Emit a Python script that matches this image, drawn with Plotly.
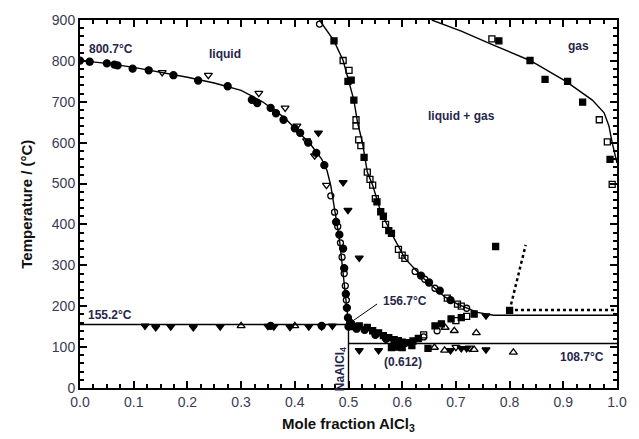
import plotly.graph_objects as go

# ---------------- data ----------------
# liquidus, NaCl-rich side
liq_left_x = [0.0, 0.05, 0.1, 0.15, 0.2, 0.25, 0.3, 0.34, 0.38, 0.41, 0.43, 0.45, 0.46, 0.467, 0.475, 0.483, 0.49, 0.495, 0.5]
liq_left_T = [800.7, 794, 784, 772, 760, 746, 728, 700, 662, 622, 595, 560, 532, 495, 430, 365, 280, 215, 156.7]

# boiling (liquid / liquid+gas) curve
boil_x = [0.446, 0.473, 0.49, 0.501, 0.51, 0.517, 0.526, 0.535, 0.545, 0.56, 0.58, 0.605, 0.64, 0.68, 0.703, 0.74, 0.77, 1.0]
boil_T = [900, 849, 801, 750, 704, 648, 600, 528, 496, 431, 378, 317, 268, 222, 205, 185, 178, 178]

# dew (gas / liquid+gas) curve
gas_x = [0.655, 0.71, 0.771, 0.838, 0.905, 0.954, 0.976, 0.985, 0.991, 0.996, 1.0]
gas_T = [900, 873, 838, 801, 750, 704, 673, 641, 600, 575, 550]

# dotted lines
dot_h_x = [0.81, 1.0]
dot_h_T = [191, 191]
dot_s_x = [0.80, 0.83]
dot_s_T = [190, 350]

# invariant lines
eut1_x = [0.0, 0.5]
eut1_T = [155.2, 155.2]
eut2_x = [0.5, 1.0]
eut2_T = [108.7, 108.7]
comp_x = [0.5, 0.5]
comp_T = [0, 156.7]

# filled circles
fc_x = [0.0, 0.018, 0.05, 0.064, 0.07, 0.098, 0.128, 0.174, 0.22, 0.275, 0.32, 0.33, 0.355, 0.365, 0.379,
        0.40, 0.41, 0.425, 0.44, 0.455, 0.477, 0.483, 0.49, 0.492, 0.495, 0.497, 0.499,
        0.5, 0.503, 0.515, 0.53, 0.55, 0.57, 0.59, 0.605, 0.635, 0.65, 0.67, 0.69, 0.355, 0.45]
fc_T = [800.7, 798, 794, 791, 789, 781, 777, 765, 752, 738, 705, 697, 685, 672, 656,
        635, 624, 600, 575, 545, 406, 375, 341, 293, 230, 196, 172,
        150, 160, 145, 142, 130, 120, 113, 110, 275, 258, 238, 215, 152, 152]

# open circles
oc_x = [0.467, 0.474, 0.48, 0.485, 0.488, 0.492, 0.494, 0.496, 0.624, 0.642, 0.661, 0.72, 0.64, 0.665, 0.446]
oc_T = [470, 430, 395, 355, 320, 280, 250, 215, 285, 266, 244, 195, 125, 140, 890]

# open down-triangles
otd_x = [0.153, 0.239, 0.333, 0.382, 0.404, 0.422, 0.437, 0.459, 0.70, 0.725]
otd_T = [772, 765, 721, 685, 641, 605, 568, 496, 100, 98]

# filled down-triangles
ftd_x = [0.121, 0.141, 0.169, 0.211, 0.261, 0.350, 0.361, 0.391, 0.426, 0.45, 0.47,
         0.444, 0.49, 0.499, 0.52, 0.52, 0.556, 0.69, 0.71, 0.72, 0.756, 0.756]
ftd_T = [152, 148, 150, 148, 150, 151, 150, 149, 150, 150, 152,
         624, 503, 435, 318, 92, 92, 92, 97, 97, 94, 177]

# open up-triangles
otu_x = [0.30, 0.40, 0.697, 0.68, 0.66, 0.679, 0.734, 0.738, 0.807]
otu_T = [152, 152, 140, 148, 99, 92, 94, 135, 87]

# filled squares
fs_x = [0.473, 0.499, 0.505, 0.51, 0.529, 0.553, 0.56, 0.565, 0.575, 0.58, 0.734, 0.80,
        0.78, 0.838, 0.866, 0.908, 0.936, 0.987, 0.774,
        0.505, 0.51, 0.52, 0.535, 0.545, 0.556, 0.565, 0.575, 0.585, 0.593, 0.6, 0.611, 0.62, 0.63,
        0.661, 0.673, 0.691, 0.71, 0.58, 0.59, 0.6, 0.618, 0.648]
fs_T = [849, 750, 753, 704, 564, 455, 431, 420, 385, 378, 181, 190,
        849, 801, 755, 750, 699, 559, 346,
        155, 150, 152, 148, 140, 135, 128, 123, 118, 116, 112, 111, 115, 121,
        152, 157, 169, 172, 99, 100, 99, 104, 97]

# open squares
os_x = [0.49, 0.501, 0.514, 0.514, 0.519, 0.523, 0.535, 0.54, 0.545, 0.55, 0.569, 0.593, 0.6, 0.605,
        0.684, 0.703, 0.71, 0.767, 0.967, 0.982, 0.991, 0.64, 0.70, 0.72]
os_T = [801, 777, 656, 641, 607, 593, 528, 510, 496, 463, 400, 339, 325, 317,
        220, 205, 200, 854, 656, 602, 498, 130, 165, 175]

# text labels
label_texts = ["800.7°C", "liquid", "gas", "liquid + gas", "155.2°C", "156.7°C", "(0.612)", "108.7°C"]
label_x = [0.057, 0.27, 0.928, 0.71, 0.055, 0.606, 0.602, 0.934]
label_T = [830, 818, 837, 665, 179, 213, 63, 75]

# ---------------- figure ----------------
FONT = "Liberation Sans, Arial, Helvetica, sans-serif"
fig = go.Figure()

def line(x, y, dash="solid", width=1.4):
    fig.add_trace(go.Scatter(x=x, y=y, mode="lines", line=dict(color="black", width=width, dash=dash),
                             hoverinfo="skip"))

line(liq_left_x, liq_left_T)
line(boil_x, boil_T)
line(gas_x, gas_T)
line(eut1_x, eut1_T)
line(eut2_x, eut2_T)
line(comp_x, comp_T)
line(dot_h_x, dot_h_T, dash="dot", width=2.5)
line(dot_s_x, dot_s_T, dash="dot", width=2.5)

def pts(x, y, sym, size=7):
    fig.add_trace(go.Scatter(x=x, y=y, mode="markers",
                             marker=dict(symbol=sym, size=size, color="black",
                                         line=dict(color="black", width=1.3))))

pts(fc_x, fc_T, "circle", 7)
pts(oc_x, oc_T, "circle-open", 6)
pts(otd_x, otd_T, "triangle-down-open", 7)
pts(ftd_x, ftd_T, "triangle-down", 7)
pts(otu_x, otu_T, "triangle-up-open", 7)
pts(fs_x, fs_T, "square", 6)
pts(os_x, os_T, "square-open", 6)

for t, xx, yy in zip(label_texts, label_x, label_T):
    fig.add_annotation(x=xx, y=yy, text="<b>" + t + "</b>", showarrow=False, xref="x", yref="y",
                       xanchor="center", yanchor="middle",
                       font=dict(family=FONT, size=12, color="#26264a"))

# leader line for 156.7
fig.add_annotation(x=0.5, y=156.7, ax=0.556, ay=208, xref="x", yref="y", axref="x", ayref="y",
                   showarrow=True, arrowhead=0, arrowwidth=1, arrowcolor="black", text="")

# compound label
fig.add_annotation(x=0.486, y=46, text="<b>NaAlCl<sub>4</sub></b>", textangle=-90, showarrow=False,
                   xref="x", yref="y", xanchor="center", yanchor="middle",
                   font=dict(family=FONT, size=12, color="#26264a"))

# axis titles
fig.add_annotation(x=0.5, y=-0.1, xref="paper", yref="paper", showarrow=False,
                   xanchor="center", yanchor="middle",
                   text="<b>Mole fraction AlCl<sub>3</sub></b>",
                   font=dict(family=FONT, size=15, color="#111"))
fig.add_annotation(x=-0.101, y=0.5, xref="paper", yref="paper", showarrow=False, textangle=-90,
                   xanchor="center", yanchor="middle",
                   text="<b>Temperature / (°C)</b>",
                   font=dict(family=FONT, size=15, color="#111"))

axis_common = dict(showgrid=False, zeroline=False, showline=True, linecolor="black", linewidth=2,
                   mirror="ticks", ticks="inside", ticklen=7, tickwidth=1.5, tickcolor="black",
                   tickfont=dict(family=FONT, size=14, color="#3a3a55"))

fig.update_xaxes(range=[0, 1], tickmode="linear", tick0=0, dtick=0.1, tickformat=".1f",
                 minor=dict(dtick=0.025, ticks="inside", ticklen=4, tickwidth=1.5, tickcolor="black"),
                 **axis_common)
fig.update_yaxes(range=[0, 900], tickmode="linear", tick0=0, dtick=100,
                 minor=dict(dtick=20, ticks="inside", ticklen=4, tickwidth=1.5, tickcolor="black"),
                 **axis_common)

fig.update_layout(width=639, height=439, margin=dict(l=80, r=14, t=16, b=51),
                  paper_bgcolor="white", plot_bgcolor="white", showlegend=False,
                  font=dict(family=FONT))

fig.write_html("out.html")
